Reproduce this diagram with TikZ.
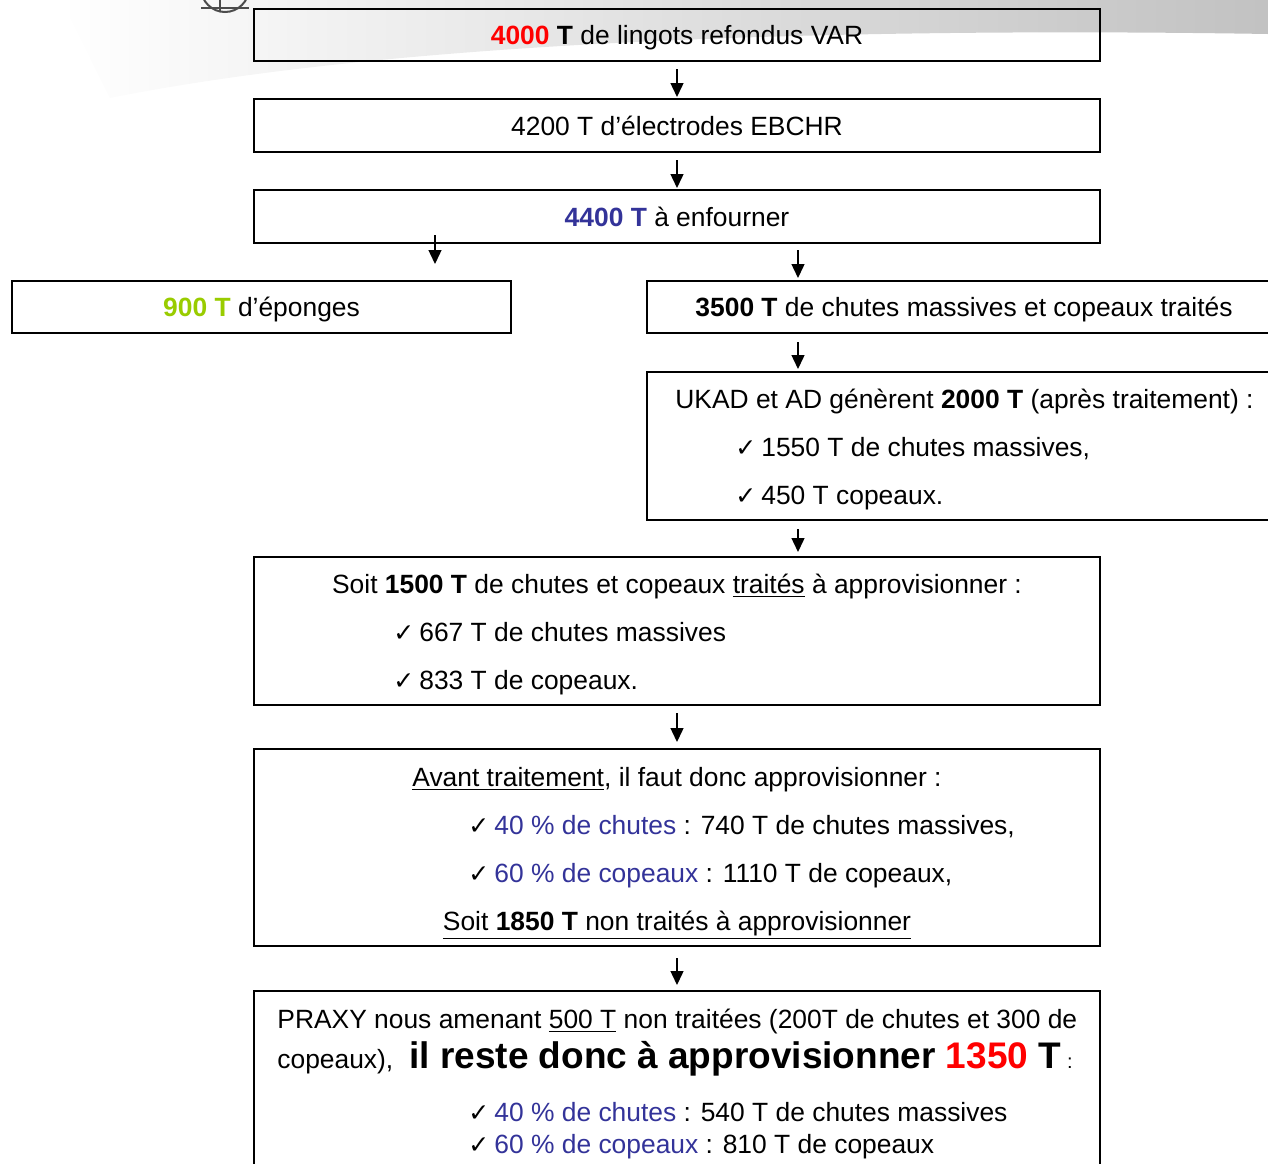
\documentclass[tikz,border=0pt]{standalone}
\usepackage{fontspec}
\setmainfont{Liberation Sans}
\newfontfamily\symfont{DejaVu Sans}
\usetikzlibrary{arrows.meta}
\definecolor{rouge}{RGB}{255,0,0}
\definecolor{bleu}{RGB}{51,51,153}
\definecolor{vert}{RGB}{153,204,0}
\newcommand{\chk}{{\symfont\fontsize{12.5}{14}\selectfont ✓}\hspace{2.5pt}}
\newcommand{\grand}{\fontsize{18.5}{22}\selectfont\bfseries}
\tikzset{>=latex}
\tikzset{
  boite/.style={draw,line width=1pt,inner sep=0pt,text height=9.5pt,text depth=0pt},
  fleche/.style={-{Triangle[width=6.5pt,length=7pt]},line width=0.7pt},
  ligne/.style={anchor=base west,inner sep=0pt},
  centre/.style={anchor=base,inner sep=0pt}
}

\begin{document}
\begin{tikzpicture}[x=0.5pt,y=-0.5pt,font=\fontsize{13.2}{16}\selectfont]
\useasboundingbox (0,0) rectangle (1268,1163);
% fond
\shade[left color=white,right color=black!24] (60,0) -- (1268,0) -- (1268,34) .. controls (900,28) and (420,36) .. (110,98) .. controls (90,60) and (75,25) .. (60,0) -- cycle;
\draw[black!70,line width=1pt] (225,-12) circle (24);
\draw[black!70,line width=1pt] (220,-12) -- (220,12) (201,8) -- (249,8);

% boites
\node[boite,minimum width=423pt,minimum height=26pt] (b1) at (677,35) {\textcolor{rouge}{\textbf{4000}} \textbf{T} de lingots refondus VAR};
\node[boite,minimum width=423pt,minimum height=26.5pt] (b2) at (677,125.5) {4200 T d’électrodes EBCHR};
\node[boite,minimum width=423pt,minimum height=26.5pt] (b3) at (677,216.5) {\textcolor{bleu}{\textbf{4400 T}} à enfourner};
\node[boite,minimum width=249.5pt,minimum height=26pt] (b4) at (261.5,307) {\textcolor{vert}{\textbf{900 T}} d’éponges};
\node[boite,minimum width=317pt,minimum height=26pt] (b5) at (964,307) {\textbf{3500 T} de chutes massives et copeaux traités};
\node[boite,minimum width=317pt,minimum height=74pt] (b6) at (964,446) {};
\node[boite,minimum width=423pt,minimum height=74pt] (b7) at (677,631) {};
\node[boite,minimum width=423pt,minimum height=98.5pt] (b8) at (677,847.5) {};
\node[boite,minimum width=423pt,minimum height=99pt] (b9) at (677,1090) {};

% textes
\node[ligne] (t6a) at (675,408) {UKAD et AD génèrent \textbf{2000 T} (après traitement) :};
\node[ligne] (t6b) at (735,456) {\chk 1550 T de chutes massives,};
\node[ligne] (t6c) at (735,504) {\chk 450 T copeaux.};

\node[centre] (t7a) at (677,593) {Soit \textbf{1500 T} de chutes et copeaux \underline{traités} à approvisionner :};
\node[ligne] (t7b) at (393,641) {\chk 667 T de chutes massives};
\node[ligne] (t7c) at (393,689) {\chk 833 T de copeaux.};

\node[centre] (t8a) at (677,786) {\underline{Avant traitement}, il faut donc approvisionner :};
\node[ligne] (t8b) at (468,834) {\chk \textcolor{bleu}{40 \% de chutes} : 740 T de chutes massives,};
\node[ligne] (t8c) at (468,882) {\chk \textcolor{bleu}{60 \% de copeaux} : 1110 T de copeaux,};
\node[centre] (t8d) at (677,930) {\underline{Soit \textbf{1850 T} non traités à approvisionner}};

\node[ligne] (t9a) at (277,1028) {PRAXY nous amenant \underline{500 T} non traitées (200T de chutes et 300 de};
\node[ligne] (t9b) at (277,1068) {copeaux),\hspace{8pt}{\grand il reste donc à approvisionner \textcolor{rouge}{1350} T}\hspace{3pt}{\fontsize{10}{12}\selectfont :}};
\node[ligne] (t9c) at (468,1121) {\chk \textcolor{bleu}{40 \% de chutes} : 540 T de chutes massives};
\node[ligne] (t9d) at (468,1153) {\chk \textcolor{bleu}{60 \% de copeaux} : 810 T de copeaux};

% fleches
\draw[fleche,shorten <=3.5pt,shorten >=0.5pt] (b1.south) -- (b2.north);
\draw[fleche,shorten <=3.5pt,shorten >=0.5pt] (b2.south) -- (b3.north);
\draw[fleche,shorten <=-4.5pt,shorten >=8pt] ([xshift=86.75pt]b4.north |- b3.south) -- ([xshift=86.75pt]b4.north);
\draw[fleche,shorten <=3pt,shorten >=1pt] ([xshift=-83pt]b5.north |- b3.south) -- ([xshift=-83pt]b5.north);
\draw[fleche,shorten <=4pt,shorten >=1pt] ([xshift=-83pt]b5.south) -- ([xshift=-83pt]b6.north);
\draw[fleche,shorten <=4pt,shorten >=2pt] ([xshift=-83pt]b6.south) -- ([xshift=-83pt]b6.south |- b7.north);
\draw[fleche,shorten <=3.5pt,shorten >=3pt] (b7.south) -- (b8.north);
\draw[fleche,shorten <=5.5pt,shorten >=2.5pt] (b8.south) -- (b9.north);
\end{tikzpicture}
\end{document}
